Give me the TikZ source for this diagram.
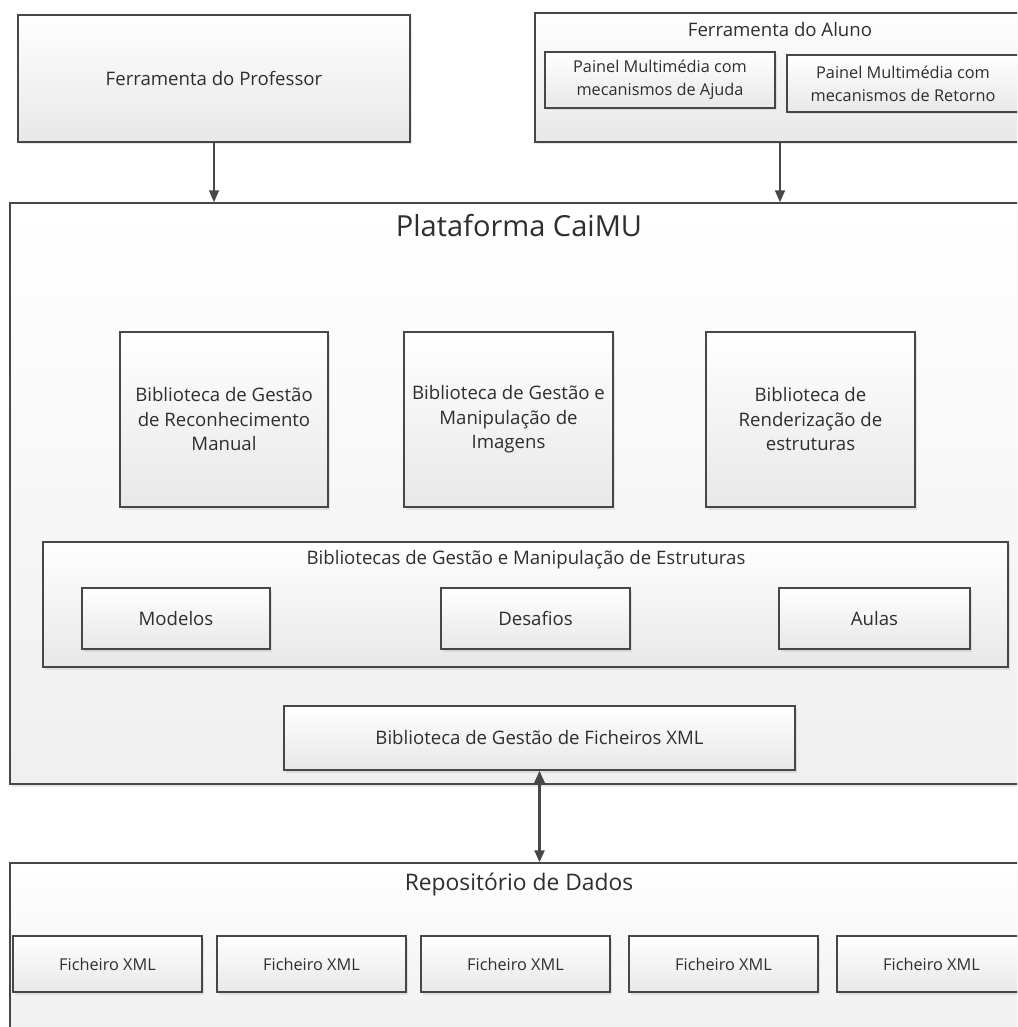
\documentclass[tikz,border=0pt]{standalone}
\usepackage{fontspec}
\setmainfont{Open Sans}
\usetikzlibrary{arrows.meta,shadows}

\definecolor{linegray}{HTML}{474747}
\definecolor{txtgray}{HTML}{2E2E2E}
\tikzset{
  box/.style={draw=linegray,line width=1.5pt,top color=white,bottom color=black!9,
    drop shadow={opacity=0.18,shadow xshift=2pt,shadow yshift=-2.5pt},
    text=txtgray,align=center,inner sep=0pt,font=\fontsize{18.6}{24.5}\selectfont},
  smallbox/.style={box,font=\fontsize{16.3}{23}\selectfont},
  bigbox/.style={box,bottom color=black!6},
  lbl/.style={text=txtgray,font=\fontsize{18.6}{24.5}\selectfont},
  conn/.style={draw=linegray,line width=1.6pt}
}

\begin{document}
\begin{tikzpicture}[x=1pt,y=-1pt,>={Triangle[width=10pt,length=12pt]}]
  \useasboundingbox (0,0) rectangle (1017,1027);
  \fill[white] (0,0) rectangle (1017,1027);
  \clip (0,0) rectangle (1017,1027);
  % tools on top
  \node[box,minimum width=392,minimum height=127] (prof) at (214,78.5) {Ferramenta do Professor};
  \node[box,minimum width=490,minimum height=129] (aluno) at (780,77.5) {};
  \node[lbl] (alunolbl) at (780,30) {Ferramenta do Aluno};
  \node[smallbox,minimum width=230,minimum height=56] (ajuda) at (660,80) {Painel Multimédia com\\mecanismos de Ajuda};
  \node[smallbox,minimum width=232,minimum height=57] (retorno) at (903,83.5) {Painel Multimédia com\\mecanismos de Retorno};
  % platform
  \node[bigbox,minimum width=1018,minimum height=581] (plat) at (519,493.5) {};
  \node[text=txtgray,font=\fontsize{29}{33}\selectfont] (platlbl) at (519,226) {Plataforma CaiMU};
  \node[box,minimum width=208,minimum height=175] (recon) at (224,419.5) {Biblioteca de Gestão\\de Reconhecimento\\Manual};
  \node[box,minimum width=209,minimum height=175] (imag) at (508.5,419.5) {Biblioteca de Gestão e\\Manipulação de\\Imagens};
  \node[box,minimum width=209,minimum height=175] (rend) at (810.5,419.5) {Biblioteca de\\Renderização de\\estruturas};
  \node[box,minimum width=965,minimum height=125] (estr) at (525.5,604.5) {};
  \node[lbl] (estrlbl) at (526,560) {Bibliotecas de Gestão e Manipulação de Estruturas};
  \node[box,minimum width=188,minimum height=61] (modelos) at (176,618.5) {Modelos};
  \node[box,minimum width=189,minimum height=61] (desafios) at (535.5,618.5) {Desafios};
  \node[box,minimum width=191,minimum height=61] (aulas) at (874.5,618.5) {Aulas};
  \node[box,minimum width=511,minimum height=64] (xml) at (539.5,738) {Biblioteca de Gestão de Ficheiros XML};
  % data repository
  \node[bigbox,minimum width=1018,minimum height=180] (repo) at (519,953) {};
  \node[text=txtgray,font=\fontsize{22.8}{27}\selectfont] (repolbl) at (519,884) {Repositório de Dados};
  \foreach \i/\x in {1/107.5,2/311.5,3/515.5,4/723.5,5/931.5}
    \node[smallbox,minimum width=189,minimum height=56] (fich\i) at (\x,964) {Ficheiro XML};
  % connectors
  \draw[conn,->] (prof.south) -- (prof.south |- plat.north);
  \draw[conn,->] (aluno.south) -- (aluno.south |- plat.north);
  \draw[conn,line width=2.4pt,<->] (xml.south) -- (xml.south |- repo.north);
\end{tikzpicture}
\end{document}
